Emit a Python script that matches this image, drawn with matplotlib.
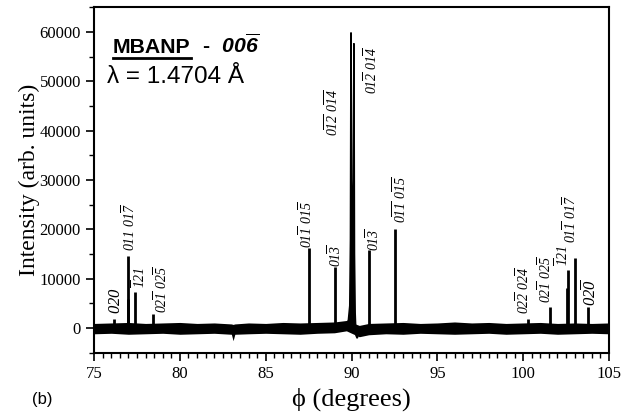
import matplotlib
matplotlib.use('Agg')
from matplotlib import pyplot as plt
from matplotlib.lines import Line2D

# peak positions (degrees) and heights (counts)
peak_phi = [76.17, 76.95, 77.0, 77.38, 78.44, 87.52, 89.04, 91.0, 92.53,
            100.28, 101.56, 102.55, 102.6, 103.0, 103.77]
peak_int = [1900, 5800, 14600, 7300, 2800, 16300, 12400, 15900, 20100,
            1800, 4200, 8000, 11700, 14100, 4300]

# the split main reflection near 90 degrees
main_phi = [89.70, 89.82, 89.90, 89.94, 89.97, 90.00, 90.05, 90.10, 90.14,
            90.17, 90.21, 90.26, 90.33, 90.45]
main_int = [600, 1600, 4500, 18000, 59900, 30000, 20000, 26000, 57700,
            15000, 3000, -1500, -2100, -700]

# baseline noise envelope
noise_phi = [75, 76, 77, 78, 79, 80, 81, 82, 83, 83.1, 83.2, 84, 85, 86, 87,
             88, 89, 89.7, 90.45, 91, 92, 93, 94, 95, 96, 97, 98, 99, 100,
             101, 102, 103, 104, 105]
noise_hi = [900, 1000, 1100, 900, 1000, 1100, 900, 1000, 800, 700, 800, 1000,
            900, 1100, 1000, 1100, 1200, 1500, 500, 900, 1000, 1100, 900,
            1000, 1200, 1000, 1100, 900, 1000, 1100, 900, 1000, 900, 1000]
noise_lo = [-1200, -1100, -1300, -1200, -1100, -1300, -1200, -1100, -1300,
            -2600, -1300, -1200, -1100, -1200, -1300, -1100, -1000, -600,
            -1800, -1400, -1200, -1300, -1100, -1200, -1300, -1200, -1100,
            -1300, -1200, -1100, -1300, -1200, -1100, -1200]

# reflection labels: text position, bottom of text, label, size
label_phi = [76.3, 77.05, 77.65, 78.9, 87.35, 89.05, 88.9, 91.15, 91.25,
             92.85, 100.0, 101.27, 102.3, 102.75, 103.9]
label_y = [2900, 15600, 8000, 3000, 16300, 12300, 39000, 47500, 15500,
           21300, 2800, 5000, 12500, 17200, 4400]
label_txt = [r'$020$',
             r'$011\ 01\overline{7}$',
             r'$\overline{1}21$',
             r'$02\overline{1}\ 02\overline{5}$',
             r'$01\overline{1}\ 01\overline{5}$',
             r'$01\overline{3}$',
             r'$0\overline{12}\ 0\overline{14}$',
             r'$01\overline{2}\ 01\overline{4}$',
             r'$01\overline{3}$',
             r'$0\overline{11}\ 0\overline{15}$',
             r'$02\overline{2}\ 02\overline{4}$',
             r'$02\overline{1}\ 02\overline{5}$',
             r'$\overline{1}21$',
             r'$01\overline{1}\ 01\overline{7}$',
             r'$02\overline{0}$']
label_size = [12, 10, 10, 10, 10, 10, 10, 10, 10, 10, 10, 10, 10, 10, 12]

plt.rcParams['font.family'] = ['Liberation Serif', 'DejaVu Serif']
plt.rcParams['mathtext.fontset'] = 'custom'
plt.rcParams['mathtext.rm'] = 'Liberation Serif:italic'
plt.rcParams['mathtext.it'] = 'Liberation Serif:italic'
plt.rcParams['mathtext.bf'] = 'Liberation Sans:bold'
plt.rcParams['mathtext.bfit'] = 'Liberation Sans:bold:italic'

fig = plt.figure(figsize=(6.23, 4.16), dpi=100)
ax = fig.add_axes([0.151, 0.1526, 0.8265, 0.8294])

ax.fill_between(noise_phi, noise_lo, noise_hi, color='black', lw=0)
ax.vlines(peak_phi, 0, peak_int, color='black', lw=2.0)
ax.fill(main_phi, main_int, color='black', lw=1.2)

for x, y, s, fs in zip(label_phi, label_y, label_txt, label_size):
    ax.text(x, y, s, rotation=90, ha='center', va='bottom', fontsize=fs)

ax.set_xlim(75, 105)
ax.set_ylim(-5000, 65000)
ax.set_xticks([75, 80, 85, 90, 95, 100, 105])
ax.set_xticks([75 + 0.5 * i for i in range(61)], minor=True)
ax.set_yticks([0, 10000, 20000, 30000, 40000, 50000, 60000])
ax.set_yticks([-5000 + 5000 * i for i in range(15)], minor=True)
ax.tick_params(which='major', direction='out', length=6, width=1.2, labelsize=12)
ax.tick_params(which='minor', direction='out', length=3.5, width=1.0)
for sp in ax.spines.values():
    sp.set_linewidth(1.5)

ax.set_xlabel('\u03d5 (degrees)', fontsize=19, labelpad=4)
ax.set_ylabel('Intensity (arb. units)', fontsize=17, labelpad=0)

t1 = ax.text(0.037, 0.868, 'MBANP', transform=ax.transAxes, fontsize=15.3,
             family='Liberation Sans', weight='bold', va='baseline')
ax.text(0.025, 0.781, '\u03bb = 1.4704 \u00c5', transform=ax.transAxes,
        fontsize=17.5, family='Liberation Sans', va='baseline')
fig.text(0.052, 0.03, '(b)', fontsize=12, family='Liberation Sans')

# underline under the sample name, then the reflection after it
fig.canvas.draw()
bb = t1.get_window_extent().transformed(fig.transFigure.inverted())
fig.add_artist(Line2D([bb.x0, bb.x1], [bb.y0 - 0.002, bb.y0 - 0.002],
                      transform=fig.transFigure, color='black', lw=2))
bx = t1.get_window_extent().transformed(ax.transAxes.inverted())
ax.text(bx.x1, 0.868, r'  -  $\mathbfit{00\overline{6}}$', transform=ax.transAxes,
        fontsize=15.3, family='Liberation Sans', weight='bold', va='baseline')

fig.savefig('out.png', dpi=100)
